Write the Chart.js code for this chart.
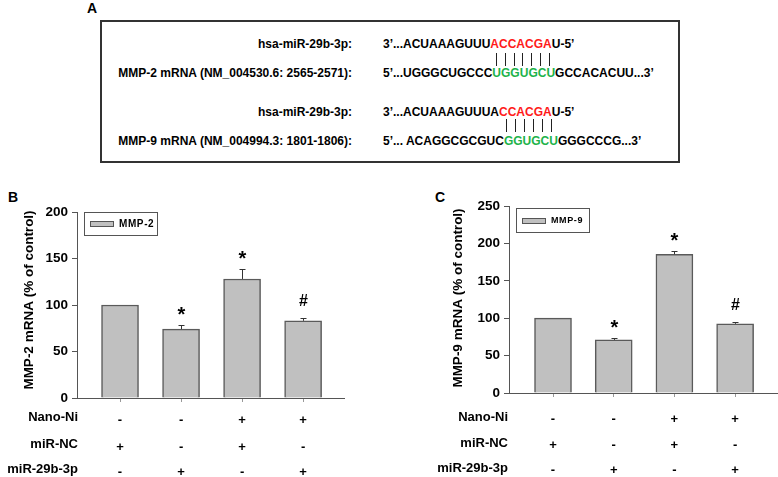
<!DOCTYPE html>
<html><head><meta charset="utf-8">
<script src="https://cdn.jsdelivr.net/npm/chart.js@4"></script>
<style>
html,body{margin:0;padding:0;background:#fff;}
body{width:778px;height:477px;position:relative;overflow:hidden;font-family:"Liberation Sans",Arial,sans-serif;}
.t{position:absolute;font-weight:bold;font-size:12px;line-height:12px;white-space:nowrap;color:#000;}
.lab{text-align:right;right:426px;}
.seq{left:383px;}
.r{color:#ff1a1a}.g{color:#1db34a}
.pl{position:absolute;font-weight:bold;font-size:14px;line-height:14px;color:#000;}
#box{position:absolute;left:100px;top:20px;width:580px;height:143px;border:2px solid #333;box-sizing:border-box;}
.bar{position:absolute;width:1px;background:#222;}
canvas{position:absolute;}
</style></head>
<body>
<div class="pl" style="left:87px;top:1px;">A</div>
<div class="pl" style="left:8px;top:190px;">B</div>
<div class="pl" style="left:435px;top:190px;">C</div>
<div id="box"></div>
<div class="t lab" style="top:38px;">hsa-miR-29b-3p:</div>
<div class="t seq" style="top:38px;">3’...ACUAAAGUUU<span class="r" id="p1a">ACCACGA</span>U-5’</div>
<div class="t lab" style="top:67px;">MMP-2 mRNA (NM_004530.6: 2565-2571):</div>
<div class="t seq" style="top:67px;">5’...UGGGCUGCCC<span class="g" id="p1b">UGGUGCU</span>GCCACACUU...3’</div>
<div class="t lab" style="top:106px;">hsa-miR-29b-3p:</div>
<div class="t seq" style="top:106px;">3’...ACUAAAGUUUA<span class="r" id="p2a">CCACGA</span>U-5’</div>
<div class="t lab" style="top:135px;">MMP-9 mRNA (NM_004994.3: 1801-1806):</div>
<div class="t seq" style="top:135px;">5’... ACAGGCGCGUC<span class="g" id="p2b">GGUGCU</span>GGGCCCG...3’</div>

<canvas id="cB" width="390" height="297" style="left:0;top:180px;"></canvas>
<canvas id="cC" width="388" height="297" style="left:390px;top:180px;"></canvas>

<script>
const FONT = '"Liberation Sans", Arial, sans-serif';

const categories = ['Control', 'miR-29b-3p', 'Nano-Ni + miR-NC', 'Nano-Ni + miR-29b-3p'];
const rowLabels = ['Nano-Ni', 'miR-NC', 'miR-29b-3p'];
const nanoNi = ['-', '-', '+', '+'];
const miRNC = ['+', '-', '+', '-'];
const miR29b = ['-', '+', '-', '+'];

const mmp2Values = [100, 74, 128, 83];
const mmp2Errors = [0, 5, 11, 3.5];
const mmp2Marks = ['', '*', '*', '#'];
const mmp2Ticks = [0, 50, 100, 150, 200];

const mmp9Values = [100, 71, 185.5, 92.5];
const mmp9Errors = [0, 2, 4.5, 2];
const mmp9Marks = ['', '*', '*', '#'];
const mmp9Ticks = [0, 50, 100, 150, 200, 250];

// pairing lines in panel A
function pairLines(aId, bId, y0, y1) {
  const wrap = el => {
    const txt = el.textContent; el.textContent = '';
    return [...txt].map(ch => { const s = document.createElement('span'); s.textContent = ch; el.appendChild(s); return s; });
  };
  const a = wrap(document.getElementById(aId));
  const b = wrap(document.getElementById(bId));
  a.forEach((s, k) => {
    const ra = s.getBoundingClientRect(), rb = b[k].getBoundingClientRect();
    const cx = ((ra.left + ra.right) / 2 + (rb.left + rb.right) / 2) / 2;
    const d = document.createElement('div');
    d.className = 'bar';
    d.style.left = Math.round(cx) + 'px';
    d.style.top = y0 + 'px';
    d.style.height = (y1 - y0) + 'px';
    document.body.appendChild(d);
  });
}
pairLines('p1a', 'p1b', 53, 66);
pairLines('p2a', 'p2b', 119, 132);

function buildChart(id, o) {
  const annot = {
    id: 'annot',
    afterDraw(chart) {
      const c = chart.ctx, xs = chart.scales.x, ys = chart.scales.y, ca = chart.chartArea;
      c.save();
      // error bars
      c.strokeStyle = '#333'; c.lineWidth = 1;
      o.values.forEach((v, i) => {
        const x = Math.round(xs.getPixelForValue(i + 1)) + 0.5;
        const yb = ys.getPixelForValue(v);
        const yt = Math.round(ys.getPixelForValue(v + o.errors[i])) + 0.5;
        if (o.errors[i] > 0) {
          c.beginPath(); c.moveTo(x, yb); c.lineTo(x, yt);
          c.moveTo(x - 3, yt); c.lineTo(x + 3, yt); c.stroke();
        }
        const m = o.marks[i];
        if (m) {
          c.fillStyle = '#000'; c.textAlign = 'center'; c.textBaseline = 'middle';
          c.font = 'bold ' + (m === '*' ? 20 : 16) + 'px ' + FONT;
          c.fillText(m, x, yt - (m === '*' ? 10 : 17));
        }
      });
      // legend
      const bx = ca.left + 7, by = ca.top + o.legendDy;
      c.fillStyle = '#fff'; c.fillRect(bx, by, 73, o.legendH);
      c.strokeStyle = '#555'; c.lineWidth = 1;
      c.strokeRect(bx + 0.5, by + 0.5, 73, o.legendH);
      const my = by + o.legendH / 2;
      c.fillStyle = '#c0c0c0'; c.fillRect(bx + 6, Math.round(my - 2.5), 23, 5);
      c.strokeStyle = '#555'; c.strokeRect(bx + 6.5, Math.round(my - 2.5) + 0.5, 23, 5);
      c.fillStyle = '#000'; c.textAlign = 'left'; c.textBaseline = 'middle';
      c.font = 'bold ' + o.legendFont + 'px ' + FONT;
      c.letterSpacing = '0.6px';
      c.fillText(o.label, bx + 35, my + 1);
      c.letterSpacing = '0px';
      // y title
      c.save();
      c.translate(o.titleX, o.titleY); c.rotate(-Math.PI / 2);
      c.font = 'bold 13.5px ' + FONT; c.textAlign = 'center'; c.textBaseline = 'middle';
      c.fillText(o.yTitle, 0, 0);
      c.restore();
      // treatment rows
      const rows = [nanoNi, miRNC, miR29b];
      c.font = 'bold 13px ' + FONT; c.textBaseline = 'alphabetic';
      rows.forEach((row, r) => {
        c.textAlign = 'right';
        c.fillText(rowLabels[r], ca.left + o.rowLabelDx, o.rowBase[r]);
        c.textAlign = 'center';
        row.forEach((s, i) => c.fillText(s, xs.getPixelForValue(i + 1), o.rowBase[r] + o.symDy));
      });
      c.restore();
    }
  };
  return new Chart(document.getElementById(id), {
    type: 'bar',
    data: {
      datasets: [{
        label: o.label,
        data: o.values.map((v, i) => ({ x: i + 1, y: v })),
        backgroundColor: '#c0c0c0',
        borderColor: '#5a5a5a',
        borderWidth: 1.5,
        barThickness: 37
      }]
    },
    options: {
      responsive: false, animation: false, devicePixelRatio: 1,
      layout: { padding: o.padding },
      plugins: { legend: { display: false }, tooltip: { enabled: false } },
      scales: {
        x: {
          type: 'linear', min: o.xMin, max: o.xMax, offset: false,
          afterBuildTicks: s => { s.ticks = categories.map((c, i) => ({ value: i + 1 })); },
          afterFit: s => { s.height = o.xHeight; },
          ticks: { display: false },
          grid: { display: true, drawOnChartArea: false, offset: false, tickLength: 4, color: '#999' },
          border: { display: true, color: '#555', width: 1 }
        },
        y: {
          min: 0, max: o.yMax,
          afterBuildTicks: s => { s.ticks = o.ticks.map(v => ({ value: v })); },
          afterFit: s => { s.width = o.yWidth; },
          ticks: { color: '#000', font: { family: FONT, size: 13.5, weight: 'bold' }, padding: 4 },
          grid: { display: true, drawOnChartArea: false, tickLength: 5, color: '#555' },
          border: { display: true, color: '#555', width: 1 }
        }
      }
    },
    plugins: [annot]
  });
}

buildChart('cB', {
  label: 'MMP-2', values: mmp2Values, errors: mmp2Errors, marks: mmp2Marks, ticks: mmp2Ticks,
  yMax: 200, yTitle: 'MMP-2 mRNA (% of control)',
  padding: { left: 0, top: 32, right: 46, bottom: 0 }, yWidth: 77, xHeight: 79,
  xMin: 0.295, xMax: 4.67,
  titleX: 29, titleY: 120, legendDy: 0, legendH: 23, legendFont: 10,
  rowBase: [241, 268, 293], rowLabelDx: 1, symDy: 3
});
buildChart('cC', {
  label: 'MMP-9', values: mmp9Values, errors: mmp9Errors, marks: mmp9Marks, ticks: mmp9Ticks,
  yMax: 250, yTitle: 'MMP-9 mRNA (% of control)',
  padding: { left: 0, top: 26, right: 1, bottom: 0 }, yWidth: 119, xHeight: 84,
  xMin: 0.275, xMax: 4.69,
  titleX: 68, titleY: 118, legendDy: 2, legendH: 24, legendFont: 9,
  rowBase: [241, 267, 292], rowLabelDx: -1, symDy: 2
});
</script>
</body></html>
